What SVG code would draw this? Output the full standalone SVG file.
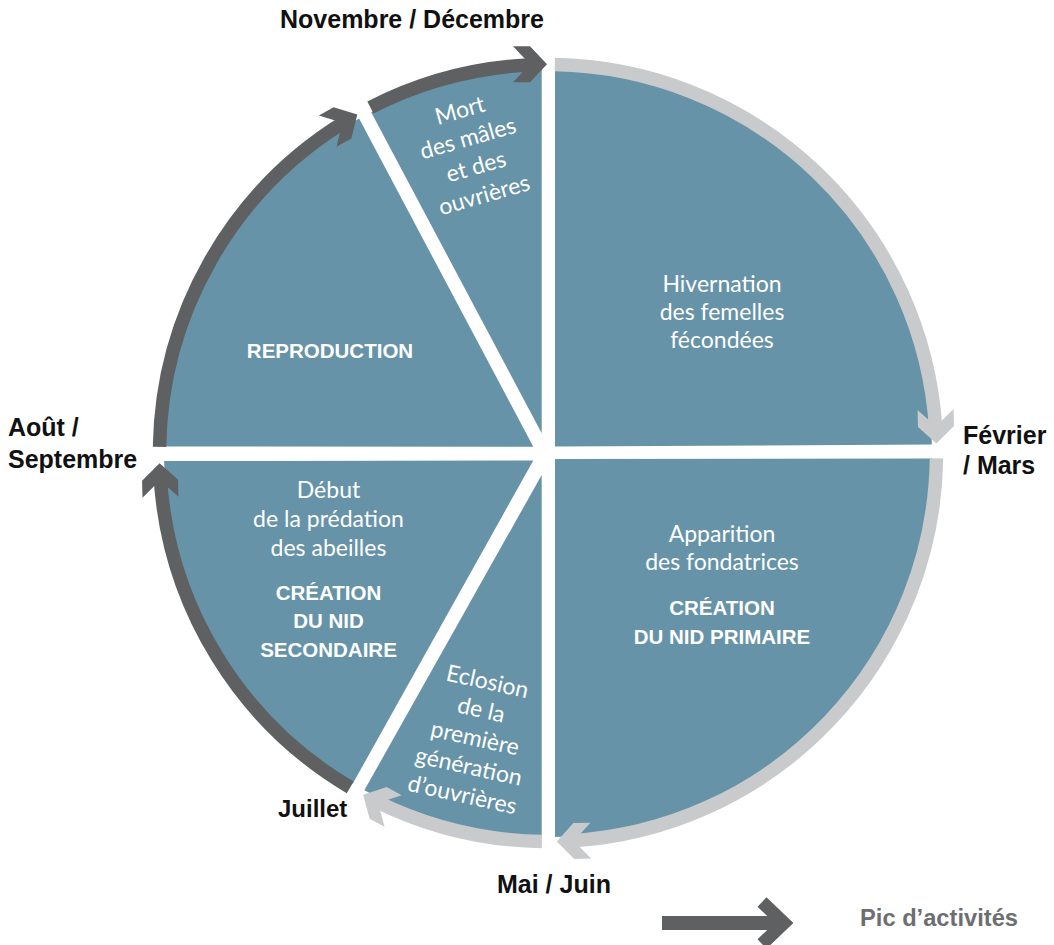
<svg xmlns="http://www.w3.org/2000/svg" width="1054" height="945" viewBox="0 0 1054 945">
<style>
.slice{fill:#6693a7}
.band{fill:none;stroke-width:13.5;stroke-linecap:butt}
.dark{stroke:#5f6062}
.light{stroke:#c9cacc}
.hd{fill:#5f6062}
.hl{fill:#c9cacc}
.lbl{font-family:"Liberation Sans",Arial,sans-serif;font-weight:bold;font-size:25px;fill:#111}
.sl{font-family:Lato,"Liberation Sans",sans-serif;font-weight:400;font-size:23px;fill:#fff;text-anchor:middle}
.sb{font-family:"Liberation Sans",Arial,sans-serif;font-weight:bold;font-size:20.5px;fill:#fff;text-anchor:middle}
</style>
<defs>
<polygon id="chev" points="0,0 -17,-18 -34,-18 -17,0 -34,18 -17,18"/>
</defs>
<rect width="1054" height="945" fill="#fff"/>

<g id="slice-hivernation">
<path class="slice" d="M555,446.5 L555,69.1 A384,384 0 0 1 931.9,444.5 Z"/>
<text class="sl" x="722" y="291.7">Hivernation</text>
<text class="sl" x="722" y="320">des femelles</text>
<text class="sl" x="722" y="348.3">fécondées</text>
</g>

<g id="slice-apparition">
<path class="slice" d="M555,459 L931.96,458.5 A384,384 0 0 1 555,836.9 Z"/>
<text class="sl" x="722" y="541.7">Apparition</text>
<text class="sl" x="722" y="570">des fondatrices</text>
<text class="sb" x="722" y="615">CRÉATION</text>
<text class="sb" x="722" y="644">DU NID PRIMAIRE</text>
</g>

<g id="slice-eclosion">
<path class="slice" d="M541.7,475 L541.7,837 A384,384 0 0 1 364.4,790.2 Z"/>
<g transform="translate(475,738) rotate(12.5)">
<text class="sl" x="0" y="-50">Eclosion</text>
<text class="sl" x="0" y="-21">de la</text>
<text class="sl" x="0" y="8">première</text>
<text class="sl" x="0" y="37">génération</text>
<text class="sl" x="0" y="66">d’ouvrières</text>
</g>
</g>

<g id="slice-debut">
<path class="slice" d="M533.3,460.5 L352.8,783.6 A384,384 0 0 1 164.1,461 Z"/>
<text class="sl" x="328.5" y="498.3">Début</text>
<text class="sl" x="328.5" y="527.3">de la prédation</text>
<text class="sl" x="328.5" y="555.7">des abeilles</text>
<text class="sb" x="328.5" y="600">CRÉATION</text>
<text class="sb" x="328.5" y="627.7">DU NID</text>
<text class="sb" x="328.5" y="656.7">SECONDAIRE</text>
</g>

<g id="slice-reproduction">
<path class="slice" d="M533.3,446.7 L164.06,446.5 A384,384 0 0 1 359.1,118.6 Z"/>
<text class="sb" x="330" y="358.3">REPRODUCTION</text>
</g>

<g id="slice-mort">
<path class="slice" d="M541.7,433.3 L371.2,112.2 A384,384 0 0 1 541.7,69.05 Z"/>
<g transform="translate(472,152.5) rotate(-16)">
<text class="sl" x="0" y="-36">Mort</text>
<text class="sl" x="0" y="-7">des mâles</text>
<text class="sl" x="0" y="22.5">et des</text>
<text class="sl" x="0" y="52">ouvrières</text>
</g>
</g>

<g id="connectors">
<path class="band dark" d="M370.4,107.5 A388.5,388.5 0 0 1 533.1,64.8"/>
<use href="#chev" class="hd" transform="translate(547,64.3) rotate(0)"/>
<path class="band dark" d="M159.55,446.9 A388.5,388.5 0 0 1 344.4,122.1"/>
<use href="#chev" class="hd" transform="translate(357.3,114.5) rotate(330.6)"/>
<path class="band dark" d="M350.2,787.4 A388.5,388.5 0 0 1 160.3,478.1"/>
<use href="#chev" class="hd" transform="translate(159.6,463.2) rotate(268.5)"/>
<path class="band light" d="M554.8,64.6 A388.5,388.5 0 0 1 935.7,428.6"/>
<use href="#chev" class="hl" transform="translate(936.4,443.5) rotate(88.6)"/>
<path class="band light" d="M936.5,458.4 A388.5,388.5 0 0 1 571.7,840.8"/>
<use href="#chev" class="hl" transform="translate(556.8,841.4) rotate(178.7)"/>
<path class="band light" d="M541.9,841.5 A388.5,388.5 0 0 1 376.5,801.6"/>
<use href="#chev" class="hl" transform="translate(363.2,794.8) rotate(208.4)"/>
</g>

<g id="labels">
<text class="lbl" x="280" y="28">Novembre / Décembre</text>
<text class="lbl" x="963" y="444">Février</text>
<text class="lbl" x="963" y="474">/ Mars</text>
<text class="lbl" x="8" y="436">Août /</text>
<text class="lbl" x="8" y="468">Septembre</text>
<text class="lbl" x="278" y="816.5" style="font-size:24px">Juillet</text>
<text class="lbl" x="497" y="892.7">Mai / Juin</text>
</g>

<g id="legend">
<rect x="662" y="916" width="123" height="14" fill="#5f6062"/>
<polyline points="762,902 784,923 762,944" fill="none" stroke="#5f6062" stroke-width="13" stroke-linejoin="miter" stroke-miterlimit="4"/>
<text class="lbl" x="860" y="926" style="font-size:23.7px;fill:#6d6e71">Pic d’activités</text>
</g>
</svg>
